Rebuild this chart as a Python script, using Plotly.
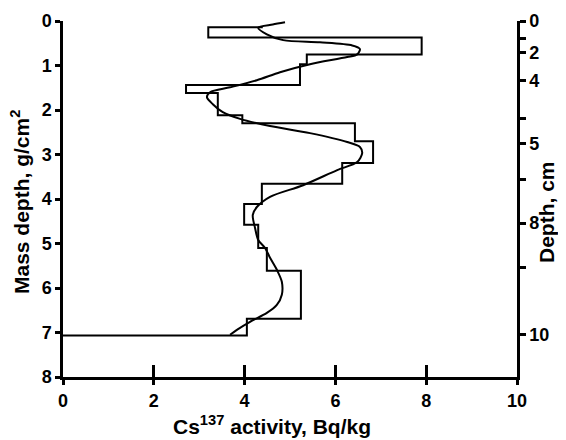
import plotly.graph_objects as go

# layer boundaries (mass depth, g/cm2) and Cs137 activity of each layer
layer_bounds = [0.14, 0.37, 0.75, 0.97, 1.44, 1.62, 2.12, 2.30, 2.70, 3.19,
                3.66, 4.11, 4.58, 5.10, 5.61, 6.69, 7.07]
layer_activity = [3.2, 7.9, 5.37, 5.22, 2.71, 3.41, 3.95, 6.43, 6.83, 6.15,
                  4.38, 3.99, 4.3, 4.49, 5.24, 4.05]
top_activity = 4.4
bottom_activity = 0.0

# smoothed model curve
curve_activity = [4.89, 4.62, 4.30, 4.49, 4.85, 5.66, 6.37, 6.54, 6.48, 6.26,
                  5.44, 4.78, 4.27, 3.68, 3.24, 3.17, 3.30, 3.52, 3.90, 4.56,
                  5.44, 6.26, 6.54, 6.59, 6.48, 6.04, 5.29, 4.56, 4.27, 4.18,
                  4.23, 4.30, 4.45, 4.56, 4.71, 4.82, 4.82, 4.71, 4.49, 4.12,
                  3.83, 3.68]
curve_depth = [0.03, 0.08, 0.15, 0.30, 0.43, 0.48, 0.55, 0.63, 0.75, 0.81,
               0.97, 1.15, 1.33, 1.49, 1.60, 1.71, 1.87, 2.05, 2.20, 2.36,
               2.52, 2.72, 2.83, 2.97, 3.17, 3.35, 3.69, 3.95, 4.18, 4.36,
               4.65, 4.92, 5.10, 5.32, 5.59, 5.86, 6.15, 6.38, 6.56, 6.76,
               6.94, 7.05]

# right axis: depth in cm placed at mass depth
cm_tick_pos = [0.0, 0.39, 0.71, 1.33, 2.19, 2.75, 3.57, 4.54, 5.53, 7.05]
cm_tick_text = ["0", "", "2", "4", "", "5", "", "8", "", "10"]

x_ticks = [0, 2, 4, 6, 8, 10]
y_ticks = [0, 1, 2, 3, 4, 5, 6, 7, 8]

# build the step outline from the layers
step_x = [top_activity]
step_y = [layer_bounds[0]]
for i, a in enumerate(layer_activity):
    step_x += [a, a]
    step_y += [layer_bounds[i], layer_bounds[i + 1]]
step_x.append(bottom_activity)
step_y.append(layer_bounds[-1])

FONT = "Liberation Sans, Arial, sans-serif"
tick_font = dict(family=FONT, size=18, color="black", weight="bold")
title_font = dict(family=FONT, size=21, color="black", weight="bold")

# the page body adds ~8px offset, so margins are shifted to compensate
L, R, T, B = 55, 57, 13, 71

fig = go.Figure()
fig.add_trace(go.Scatter(x=step_x, y=step_y, mode="lines",
                         line=dict(color="black", width=2), hoverinfo="skip"))
fig.add_trace(go.Scatter(x=curve_activity, y=curve_depth, mode="lines",
                         line=dict(color="black", width=2, shape="spline", smoothing=0.8),
                         hoverinfo="skip"))
# invisible traces to anchor the extra axes
fig.add_trace(go.Scatter(x=[None], y=[None], yaxis="y2", showlegend=False))
fig.add_trace(go.Scatter(x=[None], y=[None], xaxis="x2", showlegend=False))

# axis titles positioned in screen pixels, converted to paper coords
pw, ph = 566 - L - R, 440 - T - B
def px(xp):
    return (xp - 8 - L) / pw
def py(yp):
    return 1 - (yp - 8 - T) / ph

title_common = dict(xref="paper", yref="paper", showarrow=False, font=title_font,
                    xanchor="center", yanchor="middle")

fig.update_layout(
    width=566, height=440,
    margin=dict(l=L, r=R, t=T, b=B),
    paper_bgcolor="white", plot_bgcolor="white",
    showlegend=False,
    font=dict(family=FONT, color="black"),
    xaxis=dict(range=[0, 10], tickvals=x_ticks, showgrid=False, zeroline=False,
               showline=True, linecolor="black", linewidth=2.5, automargin=False,
               ticks="outside", ticklen=5, tickwidth=2.5, tickcolor="black",
               tickfont=tick_font, ticklabelstandoff=1),
    xaxis2=dict(range=[0, 10], tickvals=x_ticks, overlaying="x", side="bottom",
                showgrid=False, zeroline=False, showticklabels=False, automargin=False,
                ticks="inside", ticklen=12, tickwidth=2.5, tickcolor="black"),
    yaxis=dict(range=[8, 0], tickvals=y_ticks, showgrid=False, zeroline=False,
               showline=True, linecolor="black", linewidth=2.5, automargin=False,
               ticks="outside", ticklen=5, tickwidth=2.5, tickcolor="black",
               tickfont=tick_font),
    yaxis2=dict(range=[8, 0], overlaying="y", side="right", tickvals=cm_tick_pos,
                ticktext=cm_tick_text, showgrid=False, zeroline=False,
                showline=True, linecolor="black", linewidth=2.5, automargin=False,
                ticks="outside", ticklen=6, tickwidth=2.5, tickcolor="black",
                tickfont=tick_font),
    annotations=[
        dict(text="Cs<sup>137</sup> activity, Bq/kg", x=px(272), y=py(425), **title_common),
        dict(text="Mass depth, g/cm<sup>2</sup>", textangle=-90, x=px(20), y=py(202),
             **title_common),
        dict(text="Depth, cm", textangle=-90, x=px(546), y=py(212), **title_common),
    ],
)

fig.write_html("out.html")
